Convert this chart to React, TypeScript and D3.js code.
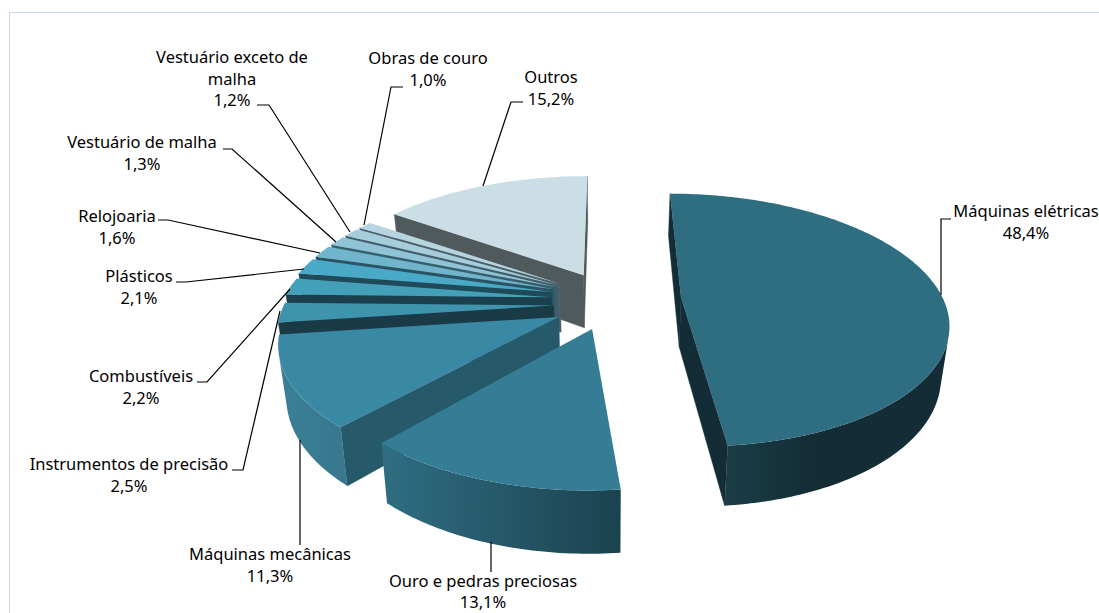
import React from "react";
import * as d3 from "d3";

const categories = ["Máquinas elétricas","Ouro e pedras preciosas","Máquinas mecânicas","Instrumentos de precisão","Combustíveis","Plásticos","Relojoaria","Vestuário de malha","Vestuário exceto de malha","Obras de couro","Outros"];
const values = [48.4,13.1,11.3,2.5,2.2,2.1,1.6,1.3,1.2,1.0,15.2];
const valueLabels = ["48,4%","13,1%","11,3%","2,5%","2,2%","2,1%","1,6%","1,3%","1,2%","1,0%","15,2%"];
const explode = [0.27,0.22,0.22,0.22,0.22,0.22,0.22,0.22,0.22,0.22,0.22];
const shiftX = [0.004,0.011,0.015,0.018,0.006,0,0,0,0,0,0.007];
const shiftY = [0.01,0.037,0.05,0.05,0.015,0,0,0,0,0,0];
const scaleX = [0.98,0.97,1,1,1,1,1,1,1,1,1];
const scaleY = [1.015,1,1,1,1,1,1,1,1,1,1.03];
const depthK = [1,1,1,1,1,1,1,1,1,1,1.1];
const topColors = ["#2e6e80","#347d94","#3a89a4","#3e93ad","#44a0b9","#4aa9c6","#70b5cc","#90c3d5","#a5cddb","#b6d5e0","#cbdde5"];
const radialColors = ["#132c35","#235464","#26596a","#1a3a46","#1b3f4c","#1f4a59","#2a5464","#37606e","#425f6a","#4c6169","#505a5c"];
const wallLeft = ["#1b3d48","#2f6e82","#3a8096","#3a8096","#44a0b9","#4aa9c6","#70b5cc","#90c3d5","#a5cddb","#b6d5e0","#a9bdc6"];
const wallRight = ["#132c35","#1b424f","#39788e","#3a8096","#44a0b9","#4aa9c6","#70b5cc","#90c3d5","#a5cddb","#b6d5e0","#a9bdc6"];
const wallSpan = [0.4,1,1,1,1,1,1,1,1,1,1];

type Lbl = { lines: string[]; x: number; y: number; leader: [number, number][] };
const labelLayout: Lbl[] = [
  { lines: ["Máquinas elétricas"], x: 1026, y: 217, leader: [[951,219],[941,219],[941,295]] },
  { lines: ["Ouro e pedras preciosas"], x: 483, y: 586.5, leader: [[491,572],[491,542]] },
  { lines: ["Máquinas mecânicas"], x: 270, y: 560, leader: [[300,545],[300,440]] },
  { lines: ["Instrumentos de precisão"], x: 129, y: 470, leader: [[232,470],[243,470],[280,311]] },
  { lines: ["Combustíveis"], x: 141, y: 382, leader: [[197,382],[207,382],[290,289]] },
  { lines: ["Plásticos"], x: 139, y: 282, leader: [[176,282],[186,282],[304,269]] },
  { lines: ["Relojoaria"], x: 117, y: 222, leader: [[158,220],[168,220],[320,253]] },
  { lines: ["Vestuário de malha"], x: 142, y: 148, leader: [[223,149],[232,149],[336,242]] },
  { lines: ["Vestuário exceto de","malha"], x: 232, y: 63, leader: [[257,105],[269,105],[350,232]] },
  { lines: ["Obras de couro"], x: 428, y: 64, leader: [[403,87],[391,87],[364,225]] },
  { lines: ["Outros"], x: 551, y: 83, leader: [[523,102],[511,102],[483,186]] },
];

const W = 1099, H = 613;
const cx = 608, cy = 298, R = 267, p = 0.175, horizonY = -392, depth = 49.5, converge = 0.975;
const FONT = "'Noto Sans','DejaVu Sans',sans-serif";
const FS = 16.5, LH = 21.5;

const pie = d3.pie<number>().sort(null).value((d) => d).startAngle(0).endAngle(2 * Math.PI);
const arcs = pie(values);
const line = d3.line<[number, number]>();

function Slice({ i }: { i: number }) {
  const project = (X: number, Y: number) => {
    const s = 1 / (1 - p * Y);
    const x = cx + R * X * s;
    const y = horizonY + (cy - horizonY) * s;
    return { x, y, bx: cx + (x - cx) * converge, by: y + depth * depthK[i] * s };
  };
  type P = ReturnType<typeof project>;
  const quad = (a: P, b: P) => line([[a.x,a.y],[b.x,b.y],[b.bx,b.by],[a.bx,a.by]])! + "Z";
  const visible = (a: P, b: P) => d3.polygonArea([[a.x,a.y],[b.x,b.y],[b.bx,b.by],[a.bx,a.by]]) > 0;
  const a = arcs[i];
  const mid = (a.startAngle + a.endAngle) / 2;
  const ox = Math.sin(mid) * explode[i] + shiftX[i];
  const oy = -Math.cos(mid) * explode[i] + shiftY[i];
  const apex = project(ox, oy);
  const steps = Math.max(4, Math.ceil((a.endAngle - a.startAngle) / (Math.PI / 180)));
  const rim = d3.range(steps + 1).map((k) => {
    const t = a.startAngle + ((a.endAngle - a.startAngle) * k) / steps;
    return project(ox + Math.sin(t) * scaleX[i], oy - Math.cos(t) * scaleY[i]);
  });
  const outline = [apex, ...rim].map((q) => [q.x, q.y] as [number, number]);
  const startVis = visible(apex, rim[0]);
  const endVis = visible(rim[steps], apex);
  const front = rim.filter((q, k) => (k < steps && visible(q, rim[k + 1])) || (k > 0 && visible(rim[k - 1], q)));
  const xs = front.map((q) => q.x);
  const x0 = d3.min(xs) ?? 0;
  const x1 = d3.max(xs) ?? 1;
  const wallPath = front.length > 1
    ? line([...front.map((q) => [q.x, q.y] as [number, number]), ...[...front].reverse().map((q) => [q.bx, q.by] as [number, number])])! + "Z"
    : null;
  const gid = `wall${i}`;
  return (
    <g>
      <defs>
        <linearGradient id={gid} gradientUnits="userSpaceOnUse" x1={x0} x2={x0 + (x1 - x0) * wallSpan[i]} y1={0} y2={0}>
          <stop offset="0" stopColor={wallLeft[i]} />
          <stop offset="1" stopColor={wallRight[i]} />
        </linearGradient>
      </defs>
      {startVis && <path d={quad(apex, rim[0])} fill={radialColors[i]} stroke={radialColors[i]} strokeWidth={0.4} />}
      {endVis && <path d={quad(rim[steps], apex)} fill={radialColors[i]} stroke={radialColors[i]} strokeWidth={0.4} />}
      {wallPath && <path d={wallPath} fill={`url(#${gid})`} />}
      <path d={line(outline)! + "Z"} fill={topColors[i]} />
    </g>
  );
}

export default function App() {
  const order = d3.range(categories.length).reverse();
  return (
    <svg width={W} height={H} viewBox={`0 0 ${W} ${H}`} style={{ position: "absolute", left: 0, top: 0, background: "#fff" }}>
      <rect x={9.5} y={12.5} width={1200} height={700} fill="#fff" stroke="#c6d9ec" strokeWidth={1} />
      {order.map((i) => <Slice key={i} i={i} />)}
      {labelLayout.map((l, i) => (
        <g key={i}>
          <polyline points={l.leader.map((q) => q.join(",")).join(" ")} fill="none" stroke="#000" strokeWidth={1.2} />
          <text x={l.x} textAnchor="middle" fontFamily={FONT} fontSize={FS} fill="#000">
            {[...l.lines, valueLabels[i]].map((t, k) => (
              <tspan key={k} x={l.x} y={l.y + k * LH}>{t}</tspan>
            ))}
          </text>
        </g>
      ))}
    </svg>
  );
}
